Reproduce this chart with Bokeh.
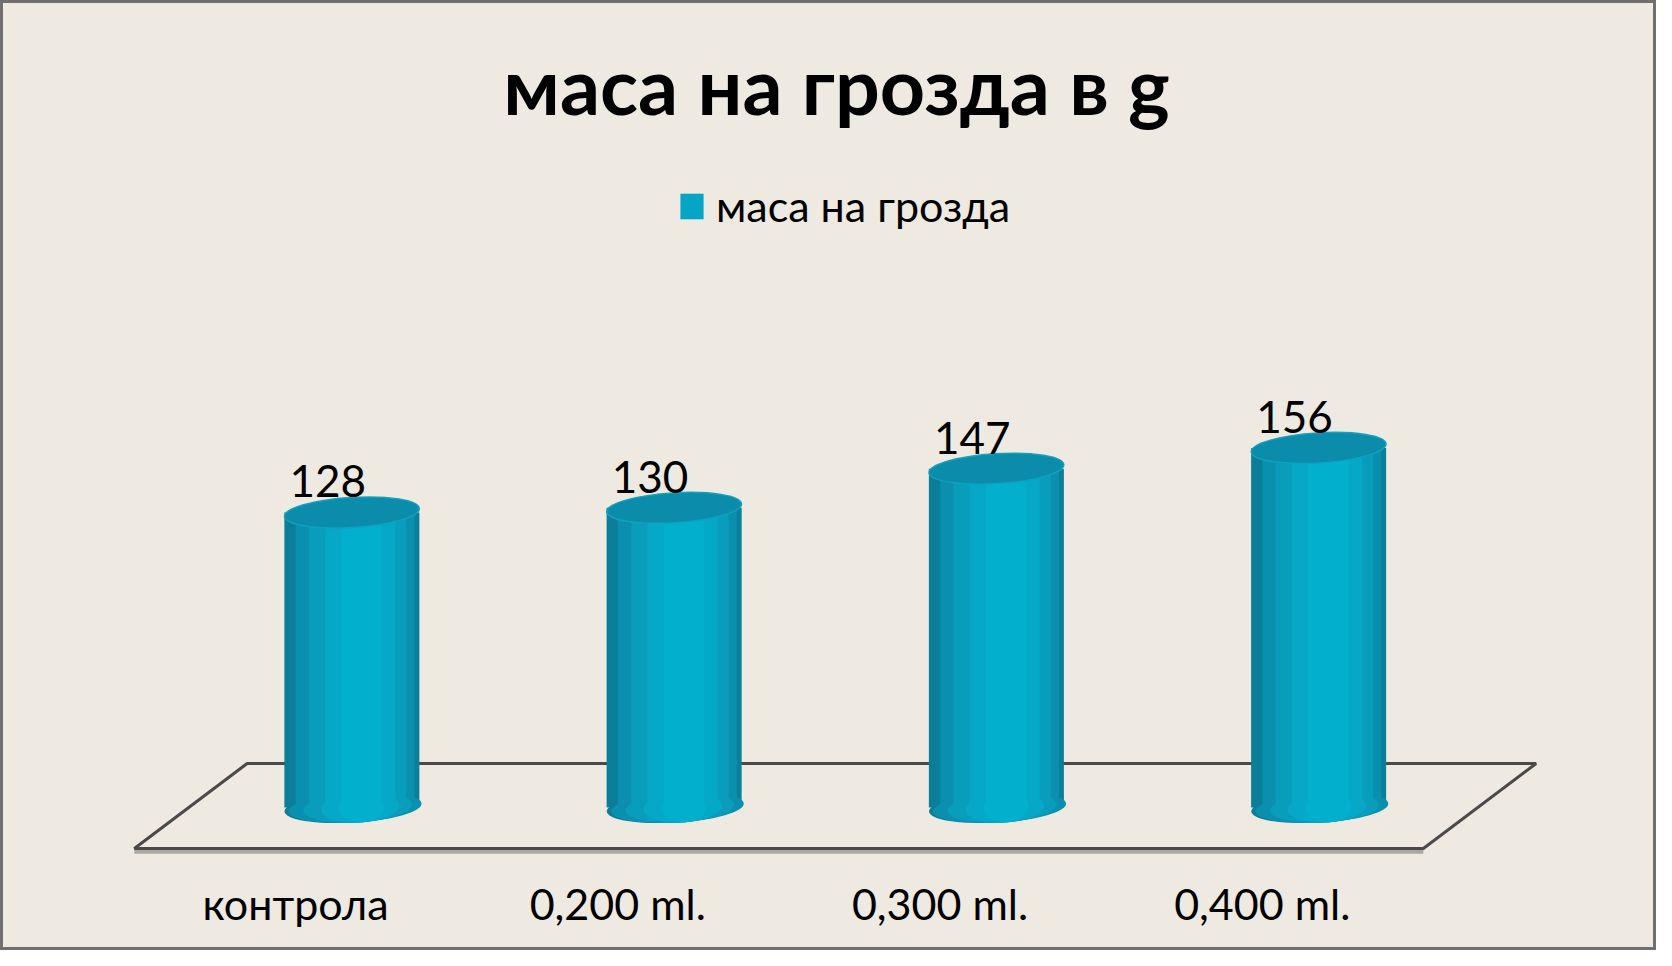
from bokeh.plotting import figure
from bokeh.models import Range1d, ColumnDataSource, Legend, LegendItem
from bokeh.core.properties import value
from bokeh.embed import file_html
from bokeh.resources import INLINE

# ---- data ----
categories = ["контрола", "0,200 ml.", "0,300 ml.", "0,400 ml."]
mass = [128, 130, 147, 156]
series_name = "маса на грозда"
title_text = "маса на грозда в g"

# ---- layout helpers (positions in category units) ----
n = len(categories)
depth = 0.35                       # depth of the 3-D floor, in category units
cat_x = [i + 0.5 for i in range(n)]
bar_x = [c + depth / 2 for c in cat_x]
lab_x = [c + 0.10 for c in cat_x]

src = ColumnDataSource(dict(
    cat=categories, cx=cat_x, bx=bar_x, lx=lab_x,
    mass=mass, zero=[0] * n, txt=[str(v) for v in mass],
))

W, H = 1656, 950
BG = "#EEEAE1"
FONT = value("Lato")
BAR_W = 0.419          # cylinder width in category units (~135 px)
BAR_PX = 135

p = figure(width=W, height=H, output_backend="svg", toolbar_location=None,
           x_range=Range1d(-0.4154, 4.7235), y_range=Range1d(-62.04, 350.1),
           x_axis_location=None, y_axis_location=None, min_border=0)
p.grid.visible = False
p.background_fill_color = BG
p.border_fill_color = BG
p.outline_line_color = "#707070"
p.outline_line_width = 5

# floor (3-D base plane)
floor_front, floor_back = -17.8, 19.1
p.line(x=[0, n], y=[floor_front - 1.4, floor_front - 1.4], line_color="#a9a7a0", line_width=4)
p.patch(x=[0, n, n + depth, depth], y=[floor_front, floor_front, floor_back, floor_back],
        fill_alpha=0, line_color="#4a4a4a", line_width=3)

# cylinders: stacked shading layers (darker edges, lighter centre)
shading = [  # (fraction of width, colour, shift to the right in category units)
    (1.00, "#0B7E99", 0.000),
    (0.88, "#0A90AE", 0.010),
    (0.72, "#089DBC", 0.018),
    (0.52, "#05A8C7", 0.026),
    (0.30, "#02B0CE", 0.030),
]
bars = None
for frac, col, shift in shading:
    sx = [b + shift for b in bar_x]
    s = ColumnDataSource(dict(x=sx, top=mass, zero=[0] * n))
    ew = min(BAR_PX, BAR_PX * frac * 1.12)
    p.ellipse(x="x", y="zero", width=ew, height=30, width_units="screen", height_units="screen",
              angle=0.06, source=s, fill_color=col, line_color=None)
    r = p.vbar(x="x", top="top", bottom=0, width=BAR_W * frac, source=s,
               fill_color=col, line_color=None)
    if bars is None:
        bars = r
p.ellipse(x="bx", y="mass", width=BAR_PX, height=30, width_units="screen", height_units="screen",
          angle=0.06, source=src, fill_color="#0A8CAA", line_color="#12A0BF", line_width=1.5)

# legend swatch colour
bars_legend = p.vbar(x="bx", top="mass", bottom=0, width=BAR_W, source=src,
                     fill_color="#05A5C5", line_color=None, visible=False)

# value labels
p.text(x="lx", y="mass", text="txt", source=src, y_offset=-31,
       text_align="center", text_baseline="alphabetic",
       text_font=FONT, text_font_size="44px", text_color="black")

# category labels
p.text(x="cx", y=-41.6, text="cat", source=src,
       text_align="center", text_baseline="alphabetic",
       text_font=FONT, text_font_size="43px", text_color="black")

# title
p.text(x=[2.179], y=[313.5], text=[title_text], text_align="center", text_baseline="alphabetic",
       text_font=FONT, text_font_size="79px", text_font_style="bold", text_color="black")

# legend
legend = Legend(items=[LegendItem(label=series_name, renderers=[bars_legend])],
                location=(677, 719), orientation="horizontal",
                glyph_width=29, glyph_height=32, label_standoff=10,
                padding=0, margin=0, spacing=0,
                border_line_color=None, background_fill_alpha=0,
                label_text_font="Lato", label_text_font_size="43px", label_text_color="black")
p.add_layout(legend, "center")

open("out.html", "w").write(file_html(p, INLINE))
